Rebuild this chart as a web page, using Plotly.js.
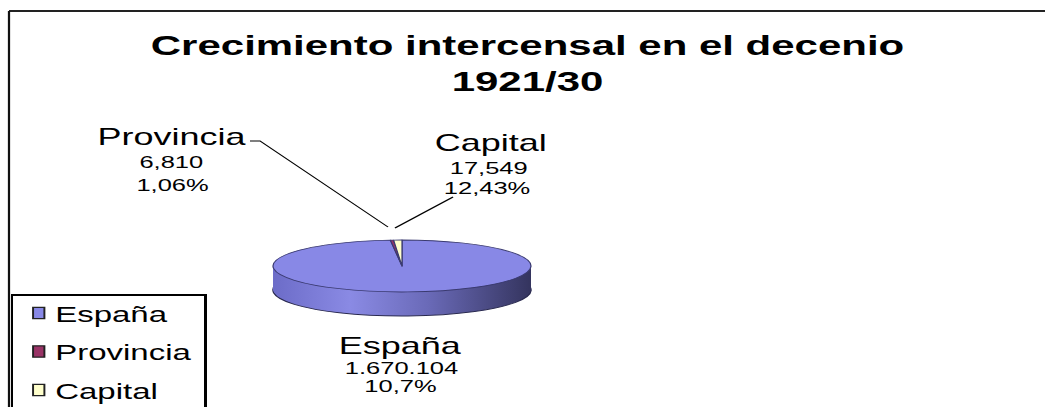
<!DOCTYPE html>
<html><head><meta charset="utf-8">
<script src="https://cdn.plot.ly/plotly-3.0.1.min.js"></script>
<style>
html,body{margin:0;padding:0;background:#fff;overflow:hidden;}
#chart{width:697px;height:407px;transform-origin:0 0;}
</style></head><body><div id="chart"></div>
<script>
// ---- data ----
const labels = ['España', 'Provincia', 'Capital'];
const values = [1670104, 6810, 17549];
const valueText = ['1.670.104', '6,810', '17,549'];
const pctText = ['10,7%', '1,06%', '12,43%'];
const titleText = 'Crecimiento intercensal en el decenio<br>1921/30';

// ---- style / layout ----
const colors = ['#8888E6', '#993366', '#FFFFCC'];
const rimColors = ['#6a6ac0', '#5a1a3a', '#b8b880'];
const FONT = 'Liberation Sans, Arial, sans-serif';

const PAGE_W = 1045, PAGE_H = 407, PLOT_W = 697;
const SX = PAGE_W / PLOT_W;                 // horizontal stretch of the whole picture
document.getElementById('chart').style.transform = 'scaleX(' + SX + ')';
const fx = x => x / PAGE_W, fy = y => 1 - y / PAGE_H;

const PIE = {cx: 402, cy: 266, rx: 129, ry: 26, depth: 24};
const r0 = PIE.rx / SX, cx0 = PIE.cx / SX, cyb = PAGE_H - PIE.cy;
const domain = {x: [(cx0 - r0) / PLOT_W, (cx0 + r0) / PLOT_W], y: [(cyb - r0) / PAGE_H, (cyb + r0) / PAGE_H]};

const traces = [], offsets = [];
for (let d = PIE.depth; d >= 1; d--) {
  traces.push({type: 'pie', labels: labels, values: values, sort: false, direction: 'clockwise', rotation: 0,
    domain: domain, textinfo: 'none', hoverinfo: 'skip', showlegend: false,
    marker: {colors: rimColors, line: {width: d === PIE.depth ? 1 : 0, color: '#2a2a50'}}});
  offsets.push(d);
}
traces.push({type: 'pie', labels: labels, values: values, sort: false, direction: 'clockwise', rotation: 0,
  domain: domain, textinfo: 'none', hoverinfo: 'skip', showlegend: true,
  marker: {colors: colors, line: {width: 0.8, color: '#3a3a70'}}});
offsets.push(0);

// label positions (page px)
const labelPos = [{x: 401, y: 345}, {x: 172, y: 137}, {x: 491, y: 143}];
const valuePos = [{x: 402, y: 368}, {x: 171, y: 163}, {x: 489, y: 168}];
const pctPos   = [{x: 400, y: 386}, {x: 173, y: 185}, {x: 487, y: 188}];
const annotations = [];
labels.forEach((lab, i) => {
  const mk = (p, t, s) => ({xref: 'paper', yref: 'paper', x: fx(p.x), y: fy(p.y), xanchor: 'center', yanchor: 'middle',
    text: t, showarrow: false, font: {family: FONT, size: s, color: '#000'}});
  annotations.push(mk(labelPos[i], lab, 24));
  annotations.push(mk(valuePos[i], valueText[i], 17));
  annotations.push(mk(pctPos[i], pctText[i], 17));
});

const P = (x, y) => fx(x) + ',' + fy(y);
const shapes = [
  {type: 'line', xref: 'paper', yref: 'paper', x0: fx(9), y0: fy(11), x1: 1.02, y1: fy(11),
   line: {color: '#222', width: 2}, layer: 'above'},
  {type: 'line', xref: 'paper', yref: 'paper', x0: fx(9), y0: fy(11), x1: fx(9), y1: -0.02,
   line: {color: '#111', width: 1.5}, layer: 'above'},
  {type: 'path', xref: 'paper', yref: 'paper', path: 'M' + P(250, 141) + 'L' + P(260, 141) + 'L' + P(388, 227),
   line: {color: '#000', width: 1}},
  {type: 'path', xref: 'paper', yref: 'paper', path: 'M' + P(453, 197) + 'L' + P(395, 228),
   line: {color: '#000', width: 1}}
];

const layout = {
  width: PLOT_W, height: PAGE_H, margin: {l: 0, r: 0, t: 0, b: 0},
  paper_bgcolor: '#fff', plot_bgcolor: '#fff',
  title: {text: titleText, font: {family: FONT, size: 28, color: '#000', weight: 'bold'},
    x: 0.5048, xanchor: 'center', xref: 'paper', y: fy(55), yanchor: 'top', yref: 'container'},
  showlegend: true,
  legend: {x: fx(11), y: fy(294), xanchor: 'left', yanchor: 'top', bgcolor: '#fff', bordercolor: '#000', borderwidth: 1.5,
    font: {family: FONT, size: 22, color: '#000'}, traceorder: 'normal'},
  annotations: annotations, shapes: shapes
};

const gd = document.getElementById('chart');
Plotly.newPlot(gd, traces, layout, {staticPlot: true, displayModeBar: false}).then(() => {
  const s = gd._fullLayout._size;
  const ccx = s.l + s.w * (domain.x[0] + domain.x[1]) / 2;
  const ccy = s.t + s.h * (1 - (domain.y[0] + domain.y[1]) / 2);
  const k = PIE.ry / r0;
  const NS = 'http://www.w3.org/2000/svg';
  const svg = gd.querySelector('svg.main-svg');
  let defs = svg.querySelector('defs');
  if (!defs) { defs = document.createElementNS(NS, 'defs'); svg.insertBefore(defs, svg.firstChild); }
  const lg = document.createElementNS(NS, 'linearGradient');
  lg.setAttribute('id', 'rimGrad'); lg.setAttribute('x1', '0'); lg.setAttribute('y1', '0'); lg.setAttribute('x2', '1'); lg.setAttribute('y2', '0');
  [['0', '#6c6cc8'], ['0.3', '#8a8ae4'], ['0.6', '#6a6ab8'], ['1', '#34345e']].forEach(([o, c]) => {
    const st = document.createElementNS(NS, 'stop'); st.setAttribute('offset', o); st.setAttribute('stop-color', c); lg.appendChild(st);
  });
  defs.appendChild(lg);

  gd.querySelectorAll('.pielayer g.trace').forEach((g, i) => {
    const off = offsets[i];
    g.setAttribute('transform', `translate(${ccx},${ccy + off}) scale(1,${k}) translate(${-ccx},${-ccy})`);
    g.querySelectorAll('g.slice').forEach((sl, j) => {
      const p = sl.querySelector('path.surface');
      if (!p) return;
      p.style.vectorEffect = 'non-scaling-stroke';
      if (off > 0 && j === 0) p.style.fill = 'url(#rimGrad)';
    });
  });

  const leg = gd.querySelector('g.legend');
  if (leg) {
    const LEG = {first: 19, step: 38.5, textX: 28, swX: 17, w: 129, h: 200};
    leg.querySelectorAll('g.traces').forEach((it, i) => {
      const m = /translate\(([-\d.e]+)[ ,]+([-\d.e]+)\)/.exec(it.getAttribute('transform') || '');
      const tx = m ? parseFloat(m[1]) : 0;
      it.setAttribute('transform', `translate(${tx},${LEG.first + LEG.step * i})`);
      const t = it.querySelector('text.legendtext');
      if (t) { t.setAttribute('x', LEG.textX); t.querySelectorAll('tspan').forEach(ts => ts.setAttribute('x', LEG.textX)); }
      const sw = it.querySelector('path.legendpie');
      if (sw) {
        sw.setAttribute('transform', `translate(${LEG.swX},0) scale(0.63,0.95)`);
        sw.style.stroke = '#222'; sw.style.strokeWidth = '1.3px'; sw.style.vectorEffect = 'non-scaling-stroke';
      }
    });
    const bg = leg.querySelector('rect.bg');
    if (bg) { bg.setAttribute('width', LEG.w); bg.setAttribute('height', LEG.h); }
    const sb = leg.querySelector('g.scrollbox');
    if (sb) sb.removeAttribute('clip-path');
  }
});
</script></body></html>
